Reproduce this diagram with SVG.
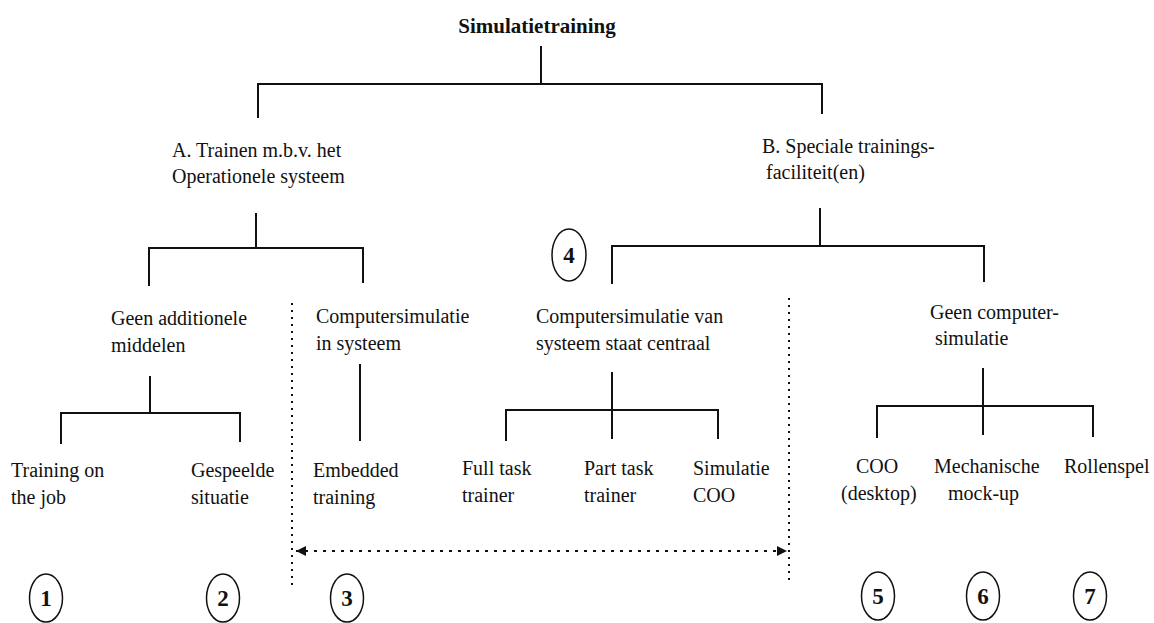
<svg xmlns="http://www.w3.org/2000/svg" width="1154" height="623" viewBox="0 0 1154 623">
<style>
  text { font-family: "Liberation Serif", "Times New Roman", serif; font-size: 20px; fill: #111; }
  .title { font-weight: bold; font-size: 21px; }
  .num { font-weight: bold; font-size: 23px; text-anchor: middle; }
  .ln { stroke: #111; stroke-width: 2; fill: none; stroke-linecap: square; }
  .dot { stroke: #111; stroke-width: 2; fill: none; stroke-dasharray: 2 5; }
  .dash { stroke: #111; stroke-width: 2; fill: none; stroke-dasharray: 3 6; }
  .circ { stroke: #111; stroke-width: 1.5; fill: none; }
</style>
<defs>
  <marker id="ah" viewBox="0 0 10 10" refX="10" refY="5" markerWidth="5" markerHeight="5" orient="auto-start-reverse" markerUnits="strokeWidth">
    <path d="M0,0 L10,5 L0,10 z" fill="#111"/>
  </marker>
</defs>
<rect width="1154" height="623" fill="#fff"/>

<g id="connectors">
  <path class="ln" d="M541,47 V84 M258,117 V84 H822 V113"/>
  <path class="ln" d="M256,214 V248 M149,285 V248 H363 V282"/>
  <path class="ln" d="M820,209 V246 M612,283 V246 H984 V281"/>
  <path class="ln" d="M150,377 V413 M61,443 V413 H240 V441"/>
  <path class="ln" d="M360,365 V440"/>
  <path class="ln" d="M612,373 V438 M506,440 V410 H718 V438"/>
  <path class="ln" d="M983,369 V434 M877,437 V406 H1093 V436"/>
  <path class="dot" d="M292,303 V588"/>
  <path class="dot" d="M789,298 V585"/>
  <path class="dash" d="M296,551 H787" marker-start="url(#ah)" marker-end="url(#ah)"/>
</g>

<g id="title"><text class="title" x="537" y="33" text-anchor="middle">Simulatietraining</text></g>

<g id="node-a"><text x="172" y="157">A. Trainen m.b.v. het</text><text x="172" y="183">Operationele systeem</text></g>
<g id="node-b"><text x="762" y="153">B. Speciale trainings-</text><text x="766" y="179">faciliteit(en)</text></g>

<g id="node-geen-add"><text x="111" y="325">Geen additionele</text><text x="111" y="352">middelen</text></g>
<g id="node-comp-in"><text x="316" y="323">Computersimulatie</text><text x="316" y="350">in systeem</text></g>
<g id="node-comp-van"><text x="536" y="323">Computersimulatie van</text><text x="536" y="350">systeem staat centraal</text></g>
<g id="node-geen-comp"><text x="930" y="319">Geen computer-</text><text x="935" y="345">simulatie</text></g>

<g id="leaf-otj"><text x="11" y="477">Training on</text><text x="11" y="504">the job</text></g>
<g id="leaf-gesp"><text x="191" y="477">Gespeelde</text><text x="191" y="504">situatie</text></g>
<g id="leaf-emb"><text x="313" y="477">Embedded</text><text x="313" y="504">training</text></g>
<g id="leaf-full"><text x="462" y="475">Full task</text><text x="462" y="502">trainer</text></g>
<g id="leaf-part"><text x="584" y="475">Part task</text><text x="584" y="502">trainer</text></g>
<g id="leaf-simcoo"><text x="693" y="475">Simulatie</text><text x="693" y="502">COO</text></g>
<g id="leaf-coo"><text x="856" y="473">COO</text><text x="841" y="500">(desktop)</text></g>
<g id="leaf-mech"><text x="934" y="473">Mechanische</text><text x="948" y="500">mock-up</text></g>
<g id="leaf-rol"><text x="1064" y="473">Rollenspel</text></g>

<g id="badge-1"><ellipse class="circ" cx="46" cy="598" rx="16.5" ry="24"/><text class="num" x="46" y="606">1</text></g>
<g id="badge-2"><ellipse class="circ" cx="223" cy="598" rx="16.5" ry="24"/><text class="num" x="223" y="606">2</text></g>
<g id="badge-3"><ellipse class="circ" cx="347" cy="598" rx="16.5" ry="24"/><text class="num" x="347" y="606">3</text></g>
<g id="badge-4"><ellipse class="circ" cx="569" cy="255" rx="17" ry="26"/><text class="num" x="569" y="263">4</text></g>
<g id="badge-5"><ellipse class="circ" cx="878" cy="596" rx="16.5" ry="24"/><text class="num" x="878" y="604">5</text></g>
<g id="badge-6"><ellipse class="circ" cx="983" cy="596" rx="16.5" ry="24"/><text class="num" x="983" y="604">6</text></g>
<g id="badge-7"><ellipse class="circ" cx="1090" cy="596" rx="16.5" ry="24"/><text class="num" x="1090" y="604">7</text></g>
</svg>
